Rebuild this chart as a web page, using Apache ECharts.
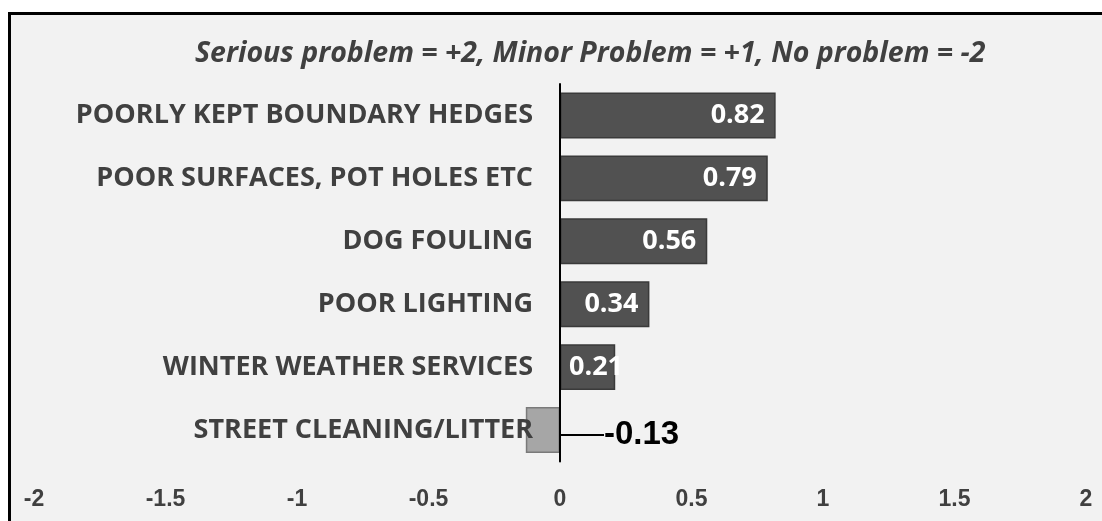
<!DOCTYPE html>
<html><head><meta charset="utf-8">
<script src="https://cdn.jsdelivr.net/npm/echarts@6/dist/echarts.min.js"></script>
<style>html,body{margin:0;padding:0;background:#fff}#c{width:1102px;height:521px}</style>
</head><body><div id="c"></div>
<script>
const categories = ['POORLY KEPT BOUNDARY HEDGES','POOR SURFACES, POT HOLES ETC','DOG FOULING','POOR LIGHTING','WINTER WEATHER SERVICES','STREET CLEANING/LITTER'];
const values = [0.82, 0.79, 0.56, 0.34, 0.21, -0.13];
const subtitle = 'Serious problem = +2, Minor Problem = +1, No problem = -2';
const xTicks = [-2, -1.5, -1, -0.5, 0, 0.5, 1, 1.5, 2];

const chart = echarts.init(document.getElementById('c'), null, {renderer:'canvas'});
const data = values.map((v, i) => {
  const item = {value: v};
  if (v < 0) {
    item.itemStyle = {color:'#a6a6a6', borderColor:'#7a7a7a', borderWidth:1.5};
    item.label = {show:true, position:'right', distance:2, color:'#000', fontFamily:'Liberation Sans', fontWeight:'bold', fontSize:33};
    item.labelLine = {show:true, lineStyle:{color:'#000', width:2}};
  } else if (v < 0.3) {
    item.label = {position:'insideLeft', distance:9};
  }
  return item;
});
chart.setOption({
  backgroundColor:'#fff',
  animation:false,
  graphic:[{type:'rect', z:-10, shape:{x:9.5, y:13.5, width:1200, height:600}, style:{fill:'#f2f2f2', stroke:'#000', lineWidth:3}}],
  title:{text:subtitle, left:190, top:34, textStyle:{fontFamily:'Open Sans', fontStyle:'italic', fontWeight:'bold', fontSize:28.5, color:'#404040'}},
  grid:{left:34, right:16, top:84, bottom:59.5, containLabel:false, outerBoundsMode:'none'},
  xAxis:{type:'value', min:-2, max:2, interval:0.5,
    axisLine:{show:false}, axisTick:{show:false}, splitLine:{show:false},
    axisLabel:{margin:27, color:'#404040', fontFamily:'Liberation Sans', fontWeight:'bold', fontSize:23,
      formatter: v => xTicks.includes(v) ? String(v) : ''}},
  yAxis:{type:'category', data:categories, inverse:true, z:5,
    axisLine:{show:true, onZero:true, lineStyle:{color:'#000', width:2}},
    axisTick:{show:false},
    axisLabel:{margin:-499, align:'right', color:'#404040', fontFamily:'Open Sans', fontWeight:'bold', fontSize:27}},
  series:[{type:'bar', data:data, barCategoryGap:'27%', z:2,
    itemStyle:{color:'#515151', borderColor:'#3a3a3a', borderWidth:1.5},
    labelLayout: p => p.dataIndex === values.length - 1 ? {dx:42, dy:5} : {},
    label:{show:true, position:'insideRight', distance:11, color:'#fff', fontFamily:'Open Sans', fontWeight:'bold', fontSize:27,
      formatter: p => p.value.toFixed(2)}}]
});
</script></body></html>
